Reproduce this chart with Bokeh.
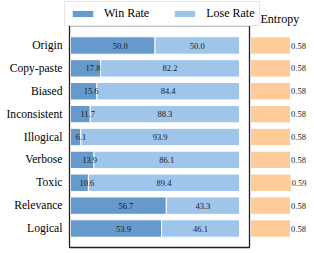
from bokeh.plotting import figure
from bokeh.models import (Range1d, ColumnDataSource, Legend, LegendItem,
                          BoxAnnotation, Label, FixedTicker)
from bokeh.core.properties import value
from bokeh.embed import file_html
from bokeh.resources import INLINE

# ---------------- data ----------------
categories = ["Origin", "Copy-paste", "Biased", "Inconsistent", "Illogical",
              "Verbose", "Toxic", "Relevance", "Logical"]
win_rate = [50.0, 17.8, 15.6, 11.7, 6.1, 13.9, 10.6, 56.7, 53.9]
lose_rate = [50.0, 82.2, 84.4, 88.3, 93.9, 86.1, 89.4, 43.3, 46.1]
entropy = [0.58, 0.58, 0.58, 0.58, 0.58, 0.58, 0.59, 0.58, 0.58]
series_names = ["Win Rate", "Lose Rate"]
entropy_title = "Entropy"

# ---------------- style / layout ----------------
WIN_COLOR = "#6699cc"
LOSE_COLOR = "#9fc5eb"
ENT_COLOR = "#ffcc99"
FONT = "Liberation Serif"

W, H = 310, 253
BL, BR, BT, BB = 63, 0, 0, 3
FW = W - BL - BR
FH = H - BT - BB

# horizontal layout (pixels from the plot-area left edge)
MAIN_PX = 1.69          # pixels per percent
main_start = -7 / MAIN_PX
main_end = main_start + FW / MAIN_PX
box_left = main_start + 6 / MAIN_PX
box_right = main_start + 186 / MAIN_PX

ENT_PX = 69.0           # pixels per entropy unit
ent_start = -187 / ENT_PX
ent_end = ent_start + FW / ENT_PX

# vertical layout
ROW_PX = 22.875
n = len(categories)
ypos = [n - 1 - i for i in range(n)]
y_start = -(FH - 228) / ROW_PX          # last row centre 228 px from top
y_end = y_start + FH / ROW_PX
box_bottom = y_start + (FH - 247) / ROW_PX
box_top = y_start + (FH - 25) / ROW_PX

BAR_H = 0.76

src = ColumnDataSource(dict(
    y=ypos,
    win=win_rate,
    lose=lose_rate,
    total=[w + l for w, l in zip(win_rate, lose_rate)],
    win_lx=[w / 2 for w in win_rate],
    lose_cx=[w + l / 2 for w, l in zip(win_rate, lose_rate)],
    win_txt=[f"{w:.1f}" for w in win_rate],
    lose_txt=[f"{l:.1f}" for l in lose_rate],
    ent=entropy,
    ent_txt=[f"{e:.2f}" for e in entropy],
))

p = figure(width=W, height=H,
           y_range=Range1d(y_start, y_end),
           x_range=Range1d(main_start, main_end),
           x_axis_location=None,
           output_backend="svg", toolbar_location=None,
           min_border_left=BL, min_border_right=BR,
           min_border_top=BT, min_border_bottom=BB)
p.extra_x_ranges = {"ent": Range1d(ent_start, ent_end)}

r_win = p.hbar(y="y", left=0, right="win", height=BAR_H, source=src,
               fill_color=WIN_COLOR, line_color="white", line_width=1)
r_lose = p.hbar(y="y", left="win", right="total", height=BAR_H, source=src,
                fill_color=LOSE_COLOR, line_color="white", line_width=1)
p.hbar(y="y", left=0, right="ent", height=BAR_H, source=src, x_range_name="ent",
       fill_color=ENT_COLOR, line_color="white", line_width=1)

txt_kw = dict(text_font=value(FONT), text_font_size="8.5px", text_color="#1a1a1a",
              text_baseline="middle", source=src)
p.text(x="win_lx", y="y", text="win_txt", text_align="left", **txt_kw)
p.text(x="lose_cx", y="y", text="lose_txt", text_align="center", **txt_kw)
p.text(x="ent", y="y", text="ent_txt", text_align="left", x_range_name="ent",
       x_offset=0.5, **txt_kw)

# frame box around the main panel
p.add_layout(BoxAnnotation(left=box_left, right=box_right, bottom=box_bottom, top=box_top,
                           fill_color=None, fill_alpha=0, line_color="#222222",
                           line_alpha=1.0, line_width=1.3))

legend = Legend(items=[LegendItem(label=series_names[0], renderers=[r_win]),
                       LegendItem(label=series_names[1], renderers=[r_lose])],
                orientation="horizontal", location=(1, FH - 26),
                label_text_font=FONT, label_text_font_size="12px",
                label_text_color="black",
                glyph_width=27, glyph_height=9, label_height=14,
                label_standoff=8, spacing=22, padding=4, margin=0,
                border_line_color="#cccccc", border_line_width=1,
                background_fill_color="white", background_fill_alpha=1.0)
p.add_layout(legend)

p.add_layout(Label(x=0, x_range_name="ent", x_offset=10, y=FH - 18, y_units="screen",
                   text=entropy_title, text_font=FONT, text_font_size="12px",
                   text_baseline="middle", text_align="left", text_color="black"))

p.xgrid.visible = False
p.ygrid.visible = False
p.outline_line_color = None
p.yaxis.ticker = FixedTicker(ticks=ypos)
p.yaxis.major_label_overrides = {yv: c for yv, c in zip(ypos, categories)}
p.yaxis.axis_line_color = None
p.yaxis.major_tick_line_color = None
p.yaxis.minor_tick_line_color = None
p.yaxis.major_tick_out = 0
p.yaxis.minor_tick_out = 0
p.yaxis.major_label_standoff = 1
p.yaxis.major_label_text_font = FONT
p.yaxis.major_label_text_font_size = "11.6px"
p.yaxis.major_label_text_color = "black"

open("out.html", "w").write(file_html(p, INLINE))
